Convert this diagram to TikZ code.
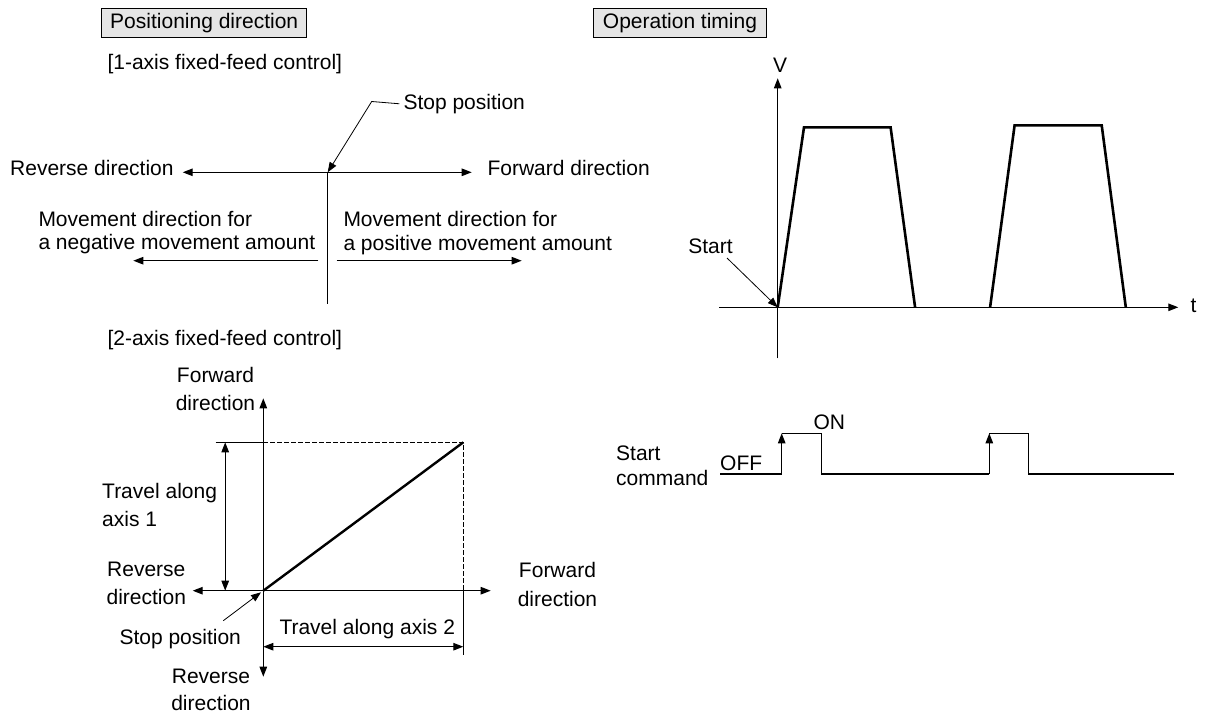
\documentclass[tikz,border=0pt]{standalone}
\usepackage{fontspec}
\setmainfont{Liberation Sans}
\usetikzlibrary{arrows.meta}
\begin{document}
\begin{tikzpicture}[x=1pt,y=-1pt,
  txt/.style={inner sep=0pt, font=\fontsize{21}{28}\selectfont},
  ttl/.style={draw, line width=1.2pt, fill=gray!20, inner sep=0pt, minimum height=29pt, font=\fontsize{21}{25}\selectfont},
  ln/.style={line width=1.1pt},
  thick line/.style={line width=2.6pt, line join=miter},
  dsh/.style={line width=0.8pt, dash pattern=on 5pt off 2pt},
  tip/.style={-{Triangle[length=10pt,width=7.5pt]}},
  dtip/.style={{Triangle[length=10pt,width=7.5pt]}-{Triangle[length=10pt,width=7.5pt]}}]
\useasboundingbox (0,0) rectangle (1211,718);

% ---------- titles ----------
\node[ttl, minimum width=205pt] (posbox) at (204.2,22.8) {Positioning direction};
\node[ttl, minimum width=173.4pt] (opbox) at (680,22.8) {Operation timing};

% ---------- 1-axis ----------
\node[txt, anchor=base west] (ax1) at (107.3,69.2) {[1-axis fixed-feed control]};
\node[txt, anchor=base west] (stop1) at (403.3,109.2) {Stop position};
\node[txt, anchor=base west] (rev1) at (10,175.8) {Reverse direction};
\node[txt, anchor=base west] (fwd1) at (487.3,175.2) {Forward direction};
\node[txt, anchor=north west, align=left, font=\fontsize{21}{23.4}\selectfont] (neg) at (38.3,210.6) {Movement direction for\\a negative movement amount};
\node[txt, anchor=north west, align=left, font=\fontsize{21}{23.4}\selectfont] (pos) at (343.3,211.3) {Movement direction for\\a positive movement amount};

\coordinate (o1) at (327.7,172.3);
\coordinate (l1) at (182.7,172.3);
\coordinate (r1) at (471.7,172.3);
\coordinate (b1) at (327.7,304);
\coordinate (k1) at (371.7,101.5);
\coordinate (na) at (318.3,260.7);
\coordinate (nb) at (133.3,260.7);
\coordinate (pa) at (336.7,260.7);
\coordinate (pb) at (521.7,260.7);
\draw[ln,tip] (o1) -- (l1);
\draw[ln,tip] (o1) -- (r1);
\draw[ln] (o1) -- (b1);
\draw[ln,tip] (na) -- (nb);
\draw[ln,tip] (pa) -- (pb);
\draw[line width=0.8pt,tip] ([xshift=-4pt]stop1.west) -- (k1) -- (o1);

% ---------- 2-axis ----------
\node[txt, anchor=base west] (ax2) at (107.3,345.8) {[2-axis fixed-feed control]};
\node[txt, anchor=north, align=center] (fwdtop) at (215.5,367.3) {Forward\\direction};
\node[txt, anchor=north west, align=left, font=\fontsize{21}{28.3}\selectfont] (trav1) at (102,483) {Travel along\\axis 1};
\node[txt, anchor=north, align=center, font=\fontsize{21}{27.3}\selectfont] (revleft) at (146.3,562.3) {Reverse\\direction};
\node[txt, anchor=north, align=center, font=\fontsize{21}{28.3}\selectfont] (fwdright) at (557.5,562.3) {Forward\\direction};
\node[txt, anchor=base west] (stop2) at (119.3,644.2) {Stop position};
\node[txt, anchor=base west] (trav2) at (279.3,634.8) {Travel along axis 2};
\node[txt, anchor=north, align=center, font=\fontsize{21}{27.3}\selectfont] (revbot) at (211,669) {Reverse\\direction};

\coordinate (o2) at (263.3,590.7);
\coordinate (top2) at (263.3,398.3);
\coordinate (bot2) at (263.3,676.7);
\coordinate (lft2) at (192.7,590.7);
\coordinate (rgt2) at (490.7,590.7);
\coordinate (p2) at (463.3,442.3);
\coordinate (ex1) at (215.5,442.3);
\coordinate (ya) at (263.3,442.3);
\coordinate (xa) at (463.3,590.7);
\coordinate (xb) at (463.3,655);
\coordinate (d1a) at (225.2,442.3);
\coordinate (d1b) at (225.2,590.7);
\coordinate (d2a) at (263.3,646.7);
\coordinate (d2b) at (463.3,646.7);
\coordinate (s2) at (223.3,620.7);

\draw[ln,tip] (o2) -- (top2);
\draw[ln,tip] (o2) -- (bot2);
\draw[ln,tip] (o2) -- (lft2);
\draw[ln,tip] (o2) -- (rgt2);
\draw[ln] (ex1) -- (ya);
\draw[dsh] (ya) -- (p2) -- (xa);
\draw[ln] (xa) -- (xb);
\draw[thick line, line width=2.4pt] (o2) -- (p2);
\draw[ln,dtip] (d1a) -- (d1b);
\draw[ln,dtip] (d2a) -- (d2b);
\draw[line width=0.8pt,tip] (s2) -- (261,592.3);

% ---------- operation timing ----------
\coordinate (o3) at (777.7,307.3);
\coordinate (vb) at (777.7,358.3);
\coordinate (vt) at (777.7,78.3);
\coordinate (tl) at (719.1,307.3);
\coordinate (tr) at (1178.3,307.3);
\node[txt, anchor=base] (V) at (780,72.5) {V};
\node[txt, anchor=base west] (t) at (1190.5,312.5) {t};
\draw[ln,tip] (vb) -- (vt);
\draw[ln,tip] (tl) -- (tr);
\draw[thick line] (o3) -- (804,127.3) -- (890.6,127.3) -- (915.1,307.3);
\draw[thick line] (990.1,307.3) -- (1014.6,125.3) -- (1101.7,125.3) -- (1125.8,307.3);
\node[txt, anchor=base] (start) at (710.5,253) {Start};
\coordinate (sl) at (727,258);
\draw[line width=0.8pt,tip] (sl) -- (o3);

% ---------- start command ----------
\node[txt, anchor=north west, align=left, font=\fontsize{21}{25}\selectfont] (cmd) at (616,445.6) {Start\\command};
\node[txt, anchor=base west] (off) at (720,470.8) {OFF};
\node[txt, anchor=base west] (on) at (813.3,429.2) {ON};
\coordinate (c0) at (720,474);
\coordinate (c1) at (781.7,474);
\coordinate (c1h) at (781.7,433.3);
\coordinate (c2h) at (821.7,433.3);
\coordinate (c2) at (821.7,474);
\coordinate (c3) at (989.3,474);
\coordinate (c3h) at (989.3,433.3);
\coordinate (c4h) at (1028.7,433.3);
\coordinate (c4) at (1028.7,474);
\coordinate (c5) at (1173.6,474);
\draw[ln] (c0) -- (c1);
\draw[ln,tip] (c1) -- (c1h);
\draw[ln] (c1h) -- (c2h) -- (c2) -- (c3);
\draw[ln,tip] (c3) -- (c3h);
\draw[ln] (c3h) -- (c4h) -- (c4) -- (c5);
\end{tikzpicture}
\end{document}
